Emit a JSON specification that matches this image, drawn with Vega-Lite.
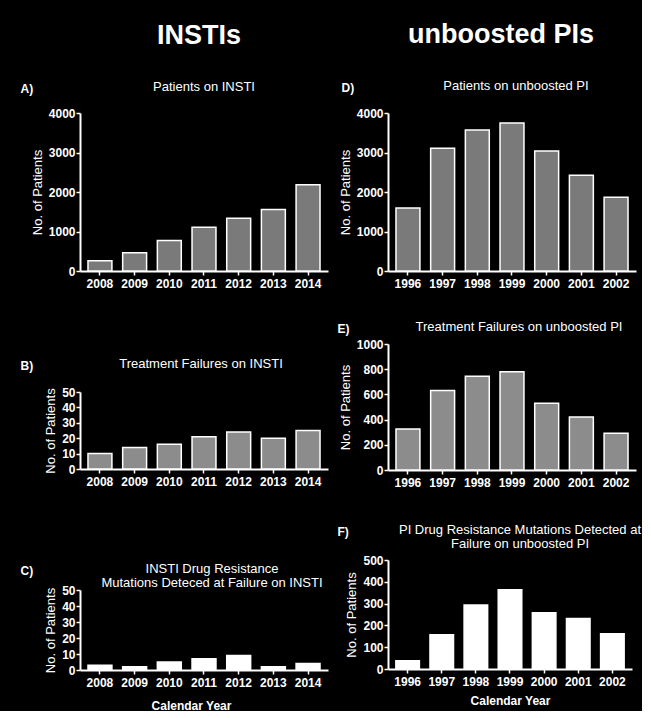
{
  "$schema": "https://vega.github.io/schema/vega-lite/v6.json",
  "background": "black",
  "padding": {"left": 20, "top": 21, "right": 0, "bottom": 0},
  "datasets": {
    "A": [{"year":"2008","n":260},{"year":"2009","n":465},{"year":"2010","n":775},{"year":"2011","n":1105},{"year":"2012","n":1335},{"year":"2013","n":1555},{"year":"2014","n":2185}],
    "B": [{"year":"2008","n":10},{"year":"2009","n":14},{"year":"2010","n":16},{"year":"2011","n":21},{"year":"2012","n":24},{"year":"2013","n":20},{"year":"2014","n":25}],
    "C": [{"year":"2008","n":3},{"year":"2009","n":2},{"year":"2010","n":5},{"year":"2011","n":7},{"year":"2012","n":9},{"year":"2013","n":2},{"year":"2014","n":4}],
    "D": [{"year":"1996","n":1595},{"year":"1997","n":3110},{"year":"1998","n":3570},{"year":"1999","n":3745},{"year":"2000","n":3040},{"year":"2001","n":2425},{"year":"2002","n":1865}],
    "E": [{"year":"1996","n":325},{"year":"1997","n":630},{"year":"1998","n":745},{"year":"1999","n":780},{"year":"2000","n":530},{"year":"2001","n":420},{"year":"2002","n":292}],
    "F": [{"year":"1996","n":38},{"year":"1997","n":157},{"year":"1998","n":294},{"year":"1999","n":363},{"year":"2000","n":258},{"year":"2001","n":232},{"year":"2002","n":162}]
  },
  "hconcat": [
    {
      "title": {"text": "INSTIs", "fontSize": 27, "fontWeight": "bold", "offset": 31, "dx": 25, "frame": "bounds"},
      "vconcat": [
        {
          "width": 248, "height": 158,
          "data": {"name": "A"},
          "title": {"text": "Patients on INSTI", "dx": 0, "offset": -12},
          "encoding": {
            "y": {"field": "n", "type": "quantitative", "scale": {"domain": [0, 4000]}, "axis": {"values": [0,1000,2000,3000,4000], "format": "d", "labelOverlap": false, "title": "No. of Patients"}}
          },
          "layer": [
            {"mark": {"type": "bar", "fill": "#7a7a7a", "stroke": "white", "strokeWidth": 1.5},
             "encoding": {
               "x": {"field": "year", "type": "ordinal", "scale": {"paddingInner": 0.31, "paddingOuter": 0.23}, "axis": {"title": null}}}},
            {"mark": {"type": "bar", "opacity": 0},
             "encoding": {
               "x": {"field": "year", "type": "ordinal", "axis": {"orient": "top", "title": "A)", "titleX": -60, "titleY": -21, "titleAlign": "left", "titleBaseline": "alphabetic", "titleFontWeight": "bold", "titleFontSize": 12, "domain": false, "ticks": false, "labels": false}}}}
          ],
          "resolve": {"axis": {"x": "independent"}}
        },
        {
          "width": 248, "height": 77,
          "data": {"name": "B"},
          "title": {"text": "Treatment Failures on INSTI", "dx": -3, "offset": -12},
          "encoding": {
            "y": {"field": "n", "type": "quantitative", "scale": {"domain": [0, 50]}, "axis": {"values": [0,10,20,30,40,50], "format": "d", "labelOverlap": false, "title": "No. of Patients"}}
          },
          "layer": [
            {"mark": {"type": "bar", "fill": "#8c8c8c", "stroke": "white", "strokeWidth": 1.5},
             "encoding": {
               "x": {"field": "year", "type": "ordinal", "scale": {"paddingInner": 0.31, "paddingOuter": 0.23}, "axis": {"title": null}}}},
            {"mark": {"type": "bar", "opacity": 0},
             "encoding": {
               "x": {"field": "year", "type": "ordinal", "axis": {"orient": "top", "title": "B)", "titleX": -60, "titleY": -23, "titleAlign": "left", "titleBaseline": "alphabetic", "titleFontWeight": "bold", "titleFontSize": 12, "domain": false, "ticks": false, "labels": false}}}}
          ],
          "resolve": {"axis": {"x": "independent"}}
        },
        {
          "width": 248, "height": 80,
          "data": {"name": "C"},
          "title": {"text": ["INSTI Drug Resistance", "Mutations Deteced at Failure on INSTI"], "lineHeight": 14, "dx": 8, "offset": -26},
          "encoding": {
            "y": {"field": "n", "type": "quantitative", "scale": {"domain": [0, 50]}, "axis": {"values": [0,10,20,30,40,50], "format": "d", "labelOverlap": false, "title": "No. of Patients"}}
          },
          "layer": [
            {"mark": {"type": "bar", "fill": "white", "stroke": "white", "strokeWidth": 1.5},
             "encoding": {
               "x": {"field": "year", "type": "ordinal", "scale": {"paddingInner": 0.31, "paddingOuter": 0.23}, "axis": {"title": "Calendar Year", "titleFontWeight": "bold", "titleFontSize": 12, "titleX": 111, "titlePadding": 12}}}},
            {"mark": {"type": "bar", "opacity": 0},
             "encoding": {
               "x": {"field": "year", "type": "ordinal", "axis": {"orient": "top", "title": "C)", "titleX": -60, "titleY": -16, "titleAlign": "left", "titleBaseline": "alphabetic", "titleFontWeight": "bold", "titleFontSize": 12, "domain": false, "ticks": false, "labels": false}}}}
          ],
          "resolve": {"axis": {"x": "independent"}}
        }
      ],
      "spacing": 121,
      "bounds": "flush"
    },
    {
      "title": {"text": "unboosted PIs", "fontSize": 27, "fontWeight": "bold", "offset": 31, "dx": 12, "frame": "bounds"},
      "vconcat": [
        {
          "width": 248, "height": 158,
          "data": {"name": "D"},
          "title": {"text": "Patients on unboosted PI", "dx": 4, "offset": -12},
          "encoding": {
            "y": {"field": "n", "type": "quantitative", "scale": {"domain": [0, 4000]}, "axis": {"values": [0,1000,2000,3000,4000], "format": "d", "labelOverlap": false, "title": "No. of Patients"}}
          },
          "layer": [
            {"mark": {"type": "bar", "fill": "#7a7a7a", "stroke": "white", "strokeWidth": 1.5},
             "encoding": {
               "x": {"field": "year", "type": "ordinal", "scale": {"paddingInner": 0.31, "paddingOuter": 0.23}, "axis": {"title": null}}}},
            {"mark": {"type": "bar", "opacity": 0},
             "encoding": {
               "x": {"field": "year", "type": "ordinal", "axis": {"orient": "top", "title": "D)", "titleX": -47, "titleY": -22, "titleAlign": "left", "titleBaseline": "alphabetic", "titleFontWeight": "bold", "titleFontSize": 12, "domain": false, "ticks": false, "labels": false}}}}
          ],
          "resolve": {"axis": {"x": "independent"}}
        },
        {
          "vconcat": [
            {
              "width": 248, "height": 126,
              "data": {"name": "E"},
              "title": {"text": "Treatment Failures on unboosted PI", "dx": 7, "offset": -12},
              "encoding": {
                "y": {"field": "n", "type": "quantitative", "scale": {"domain": [0, 1000]}, "axis": {"values": [0,200,400,600,800,1000], "format": "d", "labelOverlap": false, "title": "No. of Patients"}}
              },
              "layer": [
                {"mark": {"type": "bar", "fill": "#8c8c8c", "stroke": "white", "strokeWidth": 1.5},
                 "encoding": {
                   "x": {"field": "year", "type": "ordinal", "scale": {"paddingInner": 0.31, "paddingOuter": 0.23}, "axis": {"title": null}}}},
                {"mark": {"type": "bar", "opacity": 0},
                 "encoding": {
                   "x": {"field": "year", "type": "ordinal", "axis": {"orient": "top", "title": "E)", "titleX": -51, "titleY": -12, "titleAlign": "left", "titleBaseline": "alphabetic", "titleFontWeight": "bold", "titleFontSize": 12, "domain": false, "ticks": false, "labels": false}}}}
              ],
              "resolve": {"axis": {"x": "independent"}}
            },
            {
              "width": 244, "height": 109,
              "data": {"name": "F"},
              "title": {"text": ["PI Drug Resistance Mutations Detected at", "Failure on  unboosted  PI"], "lineHeight": 14, "dx": 10, "offset": -26},
              "encoding": {
                "y": {"field": "n", "type": "quantitative", "scale": {"domain": [0, 500]}, "axis": {"values": [0,100,200,300,400,500], "format": "d", "labelOverlap": false, "title": "No. of Patients"}}
              },
              "layer": [
                {"mark": {"type": "bar", "fill": "white", "stroke": "white", "strokeWidth": 1.5},
                 "encoding": {
                   "x": {"field": "year", "type": "ordinal", "scale": {"paddingInner": 0.31, "paddingOuter": 0.23}, "axis": {"title": "Calendar Year", "titleFontWeight": "bold", "titleFontSize": 12, "titlePadding": 8}}}},
                {"mark": {"type": "bar", "opacity": 0},
                 "encoding": {
                   "x": {"field": "year", "type": "ordinal", "axis": {"orient": "top", "title": "F)", "titleX": -51, "titleY": -25, "titleAlign": "left", "titleBaseline": "alphabetic", "titleFontWeight": "bold", "titleFontSize": 12, "domain": false, "ticks": false, "labels": false}}}}
              ],
              "resolve": {"axis": {"x": "independent"}}
            }
          ],
          "spacing": 90,
          "bounds": "flush"
        }
      ],
      "spacing": 73,
      "bounds": "flush"
    }
  ],
  "spacing": 9,
  "config": {
    "view": {"stroke": null},
    "font": "Liberation Sans",
    "title": {"color": "white", "font": "Liberation Sans", "fontSize": 13, "fontWeight": "normal", "anchor": "middle", "frame": "group"},
    "axis": {"labelFont": "Liberation Sans", "labelFontWeight": "bold", "labelFontSize": 12, "labelColor": "white", "titleFont": "Liberation Sans", "titleFontWeight": "normal", "titleFontSize": 13, "titleColor": "white", "domainColor": "white", "domainWidth": 2, "tickColor": "white", "tickWidth": 1.5, "tickSize": 4, "grid": false, "labelPadding": 2},
    "axisX": {"labelAngle": 0, "labelPadding": 3},
    "axisY": {"titlePadding": 4, "labelPadding": 1}
  }
}
